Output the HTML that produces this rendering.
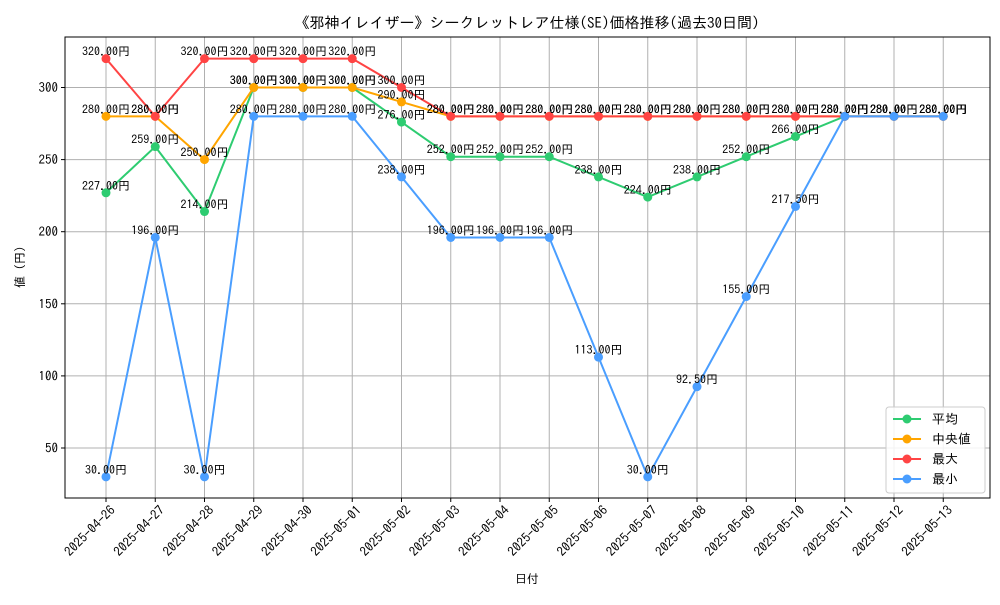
<!DOCTYPE html>
<html><head><meta charset="utf-8"><style>
body{margin:0;background:#fff}
svg text{font-family:"IPAGothic","Noto Sans CJK JP",sans-serif}
</style></head><body>
<svg id="chart" width="1000" height="600" xmlns="http://www.w3.org/2000/svg"></svg>
<script>
const categories=["2025-04-26","2025-04-27","2025-04-28","2025-04-29","2025-04-30","2025-05-01","2025-05-02","2025-05-03","2025-05-04","2025-05-05","2025-05-06","2025-05-07","2025-05-08","2025-05-09","2025-05-10","2025-05-11","2025-05-12","2025-05-13"];
const avgValues=[227,259,214,300,300,300,276,252,252,252,238,224,238,252,266,280,280,280];
const medianValues=[280,280,250,300,300,300,290,280,280,280,280,280,280,280,280,280,280,280];
const maxValues=[320,280,320,320,320,320,300,280,280,280,280,280,280,280,280,280,280,280];
const minValues=[30,196,30,280,280,280,238,196,196,196,113,30,92.5,155,217.5,280,280,280];
const yTicks=[50,100,150,200,250,300];
const seriesNames=["平均","中央値","最大","最小"];
const NS="http://www.w3.org/2000/svg";
const svg=document.getElementById('chart');
const L=65,R=990,T=37,B=498;
const x=i=>106+i*49.25;
const y=v=>448+(50-v)*1.442;
function mk(tag,attrs,parent){const e=document.createElementNS(NS,tag);for(const k in attrs)e.setAttribute(k,attrs[k]);(parent||svg).appendChild(e);return e;}
const grid=mk('g',{});


categories.forEach((c,i)=>{
  mk('line',{x1:x(i),x2:x(i),y1:T,y2:B,stroke:'#b0b0b0','stroke-width':1},grid);
  mk('line',{x1:x(i),x2:x(i),y1:B,y2:B+4,stroke:'#000'});
  const ax=x(i)+10, ay=B+13;
  const t=mk('text',{x:ax,y:ay,'font-size':13,'text-anchor':'end',transform:`rotate(-45 ${ax} ${ay})`});
  
  
  t.textContent=c;
});
yTicks.forEach(v=>{
  mk('line',{x1:L,x2:R,y1:y(v),y2:y(v),stroke:'#b0b0b0','stroke-width':1},grid);
  mk('line',{x1:L-4,x2:L,y1:y(v),y2:y(v),stroke:'#000'});
  const t=mk('text',{x:L-7,y:y(v)+4.5,'font-size':13,'text-anchor':'end'});
  
  
  t.textContent=v;
});
const series=[[avgValues,'#2ecc71'],[medianValues,'#ffa500'],[maxValues,'#ff4444'],[minValues,'#4a9eff']];
series.forEach(([vals,col],si)=>{
  const g=mk('g',{});
  
  
  mk('polyline',{points:vals.map((v,i)=>x(i)+','+y(v)).join(' '),fill:'none',stroke:col,'stroke-width':2},g);
  vals.forEach((v,i)=>{
    const c=mk('circle',{cx:x(i),cy:y(v),r:4.5,fill:col},g);
    
    
  });
});
series.forEach(([vals])=>{
  vals.forEach((v,i)=>{
    const t=mk('text',{x:x(i),y:y(v)-3,'font-size':12,'text-anchor':'middle'});
    
    
    t.textContent=v.toFixed(2)+'円';
  });
});
mk('rect',{x:L,y:T,width:R-L,height:B-T,fill:'none',stroke:'#000','stroke-width':1});
const title=mk('text',{x:527,y:28,'font-size':15,'text-anchor':'middle'});


title.textContent='《邪神イレイザー》シークレットレア仕様(SE)価格推移(過去30日間)';
const xt=mk('text',{x:527,y:583,'font-size':12,'text-anchor':'middle'});


xt.textContent='日付';
const yt=mk('text',{x:24,y:267,'font-size':12,'text-anchor':'middle',transform:'rotate(-90 24 267)'});


yt.textContent='値 (円)';
const lg=mk('g',{});


mk('rect',{x:886,y:407,width:99,height:86,rx:3,fill:'#fff','fill-opacity':0.85,stroke:'#ccc'},lg);
series.forEach(([v,col],i)=>{
  const yy=419+i*20;
  mk('line',{x1:893,x2:921,y1:yy,y2:yy,stroke:col,'stroke-width':2},lg);
  mk('circle',{cx:907,cy:yy,r:4.5,fill:col},lg);
  const t=mk('text',{x:932,y:yy+4.5,'font-size':13},lg);
  
  
  t.textContent=seriesNames[i];
});
</script>
</body></html>
